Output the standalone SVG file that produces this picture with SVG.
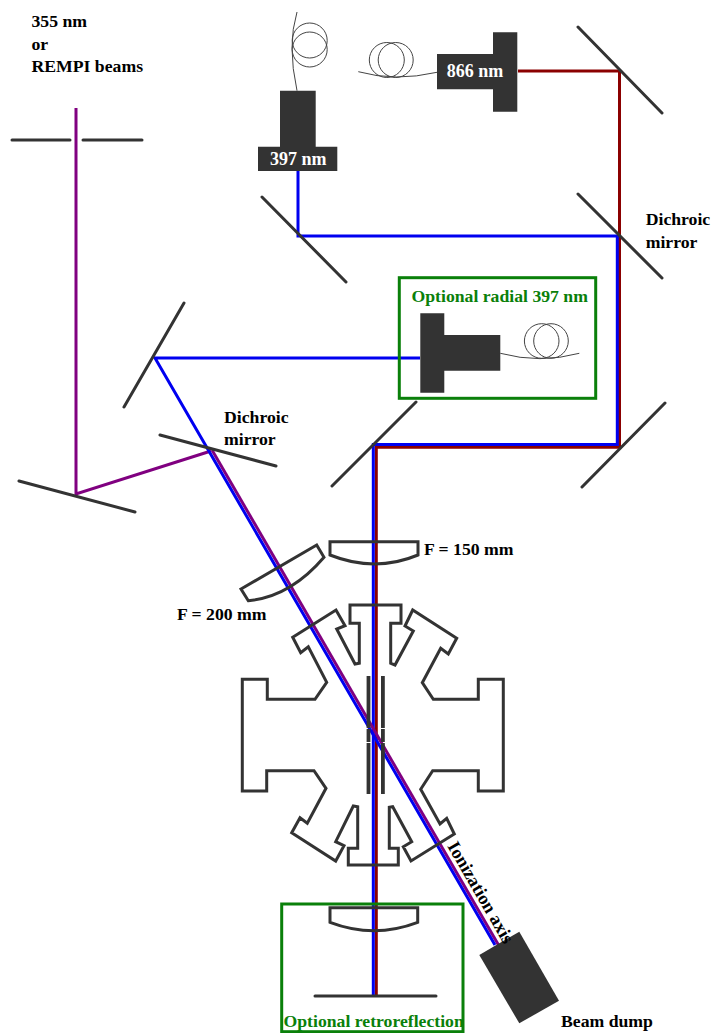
<svg xmlns="http://www.w3.org/2000/svg" width="712" height="1033" viewBox="0 0 712 1033">
<style>
text{font-family:"Liberation Serif","Times New Roman",serif;font-weight:700;font-size:17.7px;fill:#000}
.w{fill:#fff;font-size:18px}
.g{fill:#0a800a}
.m{fill:none;stroke:#333;stroke-width:3;stroke-linecap:round}
.o{fill:none;stroke:#333;stroke-width:3;stroke-linejoin:miter}
.f{fill:none;stroke:#444;stroke-width:1}
.b{fill:#333}
.gb{fill:none;stroke:#0a800a;stroke-width:3}
.bl{fill:none;stroke:#0000f0;stroke-width:3}
.rd{fill:none;stroke:#8b0000;stroke-width:3}
.pu{fill:none;stroke:#800080;stroke-width:3}
</style>
<rect width="712" height="1033" fill="#fff"/>
<g id="connectors">
<path class="pu" d="M76 108V494L211 451"/>
<path class="rd" d="M518 71H619.5V447.2H376.3V996"/>
<path class="bl" d="M298 171V236H617.3V444.5H373.3V996"/>
<path class="pu" d="M212 450L498.5 945"/>
<path class="bl" d="M420 358H155L495 945"/>
</g>
<g id="mirrors">
<path class="m" d="M578 27L662 113M578 194L662 278M582 487L665 403M332 486L416 402M262 197L346 282M124 407L184 303M160 435L276 466M19 481L135 512M12 140H70M83 140H142M315 996H436"/>
</g>
<g id="lens-150"><path class="o" d="M330 541.7H418V555Q375 573 330 555Z"/></g>
<g id="lens-200"><path class="o" d="M241 589L316.7 545L324 557.3Q290 597 248.3 600.7Z"/></g>
<g id="lens-retro"><path class="o" d="M330 907.7H417.7V922.3Q374 939 330 922.3Z"/></g>
<g id="chamber">
<path class="o" d="M350 605H401V623.3H390.7V663.3L395 665L413.3 631L405 626L412.7 610L456.7 638.3L448.3 654L440.7 648.3L422.3 682.7L433.3 699.3H478.3V679.3H503.3V791H478.3V770.7H432.7L420.7 789.3L440 824L446.7 818.3L454.3 834L411 861L403.3 846.7L411.7 841.7L392.7 806.7L389.3 807.3V848.3H398.3V865H348.3V848.3H357.7V806.7L353.3 806L335.7 841.7L344 845.7L335.7 861L291.7 832.7L300 817.7L307.3 823.3L326 788.3L314 770.7H266.7V791H242.3V679.3H267.3V699.3H315L326.7 682.3L308.3 646.7L300.7 652.7L292.7 637.3L336 610L345 625.7L336.7 629L355 664L359.3 663.3V623.3H350Z"/>
<path class="b" d="M366.6 676h3.8v52h-3.8zM366.6 729h3.8v13h-3.8zM366.6 743h3.8v51h-3.8zM381 676h3.8v52h-3.8zM381 729h3.8v13h-3.8zM381 743h3.8v51h-3.8z"/>
</g>
<g id="laser-397"><path class="f" d="M297 12Q287 45 297 90.7"/><circle class="f" cx="309.7" cy="40.5" r="17.5"/><circle class="f" cx="309.7" cy="49.5" r="17.5"/><path class="b" d="M280 90.7h35.7v56h21.6v24.3H258v-24.3h22z"/><text class="w" x="270" y="165">397 nm</text></g>
<g id="laser-866"><path class="f" d="M358.3 71.7Q395 82 437 72.3"/><circle class="f" cx="386.8" cy="60" r="17.5"/><circle class="f" cx="395.7" cy="60" r="17.5"/><path class="b" d="M437 54h56V32.3h24.3v79.4H493V89.3h-56z"/><text class="w" x="446.7" y="77">866 nm</text></g>
<g id="laser-radial"><path class="f" d="M500.3 353.3Q540 364 579.3 353.3"/><circle class="f" cx="541.7" cy="341" r="17.3"/><circle class="f" cx="551" cy="341" r="17.3"/><path class="b" d="M420.3 313.3h24v21.7h56v35.7h-56v22h-24z"/></g>
<g id="box-radial"><rect class="gb" x="399.3" y="277.7" width="196.4" height="120.6"/><text class="g" x="411.5" y="301.5">Optional radial 397 nm</text></g>
<g id="box-retro"><rect class="gb" x="281.7" y="904" width="181.3" height="127.7"/><text class="g" x="283.5" y="1026.7">Optional retroreflection</text></g>
<g id="beam-dump"><path class="b" d="M519.3 931.7L559 1000.7L519.3 1023.3L479.3 955Z"/><text x="561" y="1027">Beam dump</text></g>
<g id="labels">
<text x="31.5" y="27.3">355 nm</text><text x="31.5" y="50">or</text><text x="31.5" y="71.5">REMPI beams</text>
<text x="645.7" y="225">Dichroic</text><text x="645.7" y="247.5">mirror</text>
<text x="224" y="422.7">Dichroic</text><text x="224" y="445">mirror</text>
<text x="424" y="554.5">F = 150 mm</text><text x="177" y="619.5">F = 200 mm</text>
<text style="font-size:18.3px" transform="translate(447 846) rotate(60)">Ionization axis</text>
</g>
</svg>
